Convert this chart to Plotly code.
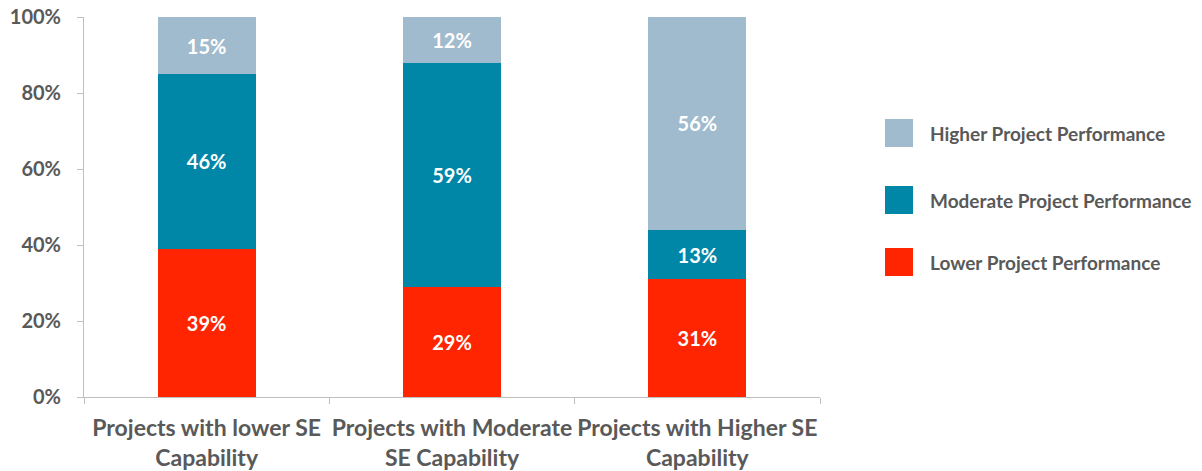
import plotly.graph_objects as go

categories = ["Projects with lower SE<br>Capability",
              "Projects with Moderate<br>SE Capability",
              "Projects with Higher SE<br>Capability"]
lower = [39, 29, 31]
moderate = [46, 59, 13]
higher = [15, 12, 56]

series_names = ["Lower Project Performance", "Moderate Project Performance", "Higher Project Performance"]
series_values = [lower, moderate, higher]
colors = ["#fe2500", "#0087a8", "#a0bbcd"]
tick_vals = [0, 20, 40, 60, 80, 100]
tick_text = ["0%", "20%", "40%", "60%", "80%", "100%"]

FONT = "Lato"
GRAY = "#595959"

FW, FH = 1202, 471
# plot area in pixels
L, R, T, B = 84, 820, 17, 397
W, H = R - L, B - T

fig = go.Figure()
for name, vals, col in zip(series_names, series_values, colors):
    fig.add_trace(go.Bar(
        x=categories, y=vals, name=name, marker=dict(color=col, line=dict(width=0)),
        text=[f"{v}%" for v in vals], textposition="inside", insidetextanchor="middle",
        textfont=dict(family=FONT, size=20, color="white", weight="bold"),
        width=0.4, showlegend=False,
    ))

# custom legend (top to bottom: Higher, Moderate, Lower)
legend_py = [133, 200, 262]
for py, name, col in zip(legend_py, series_names[::-1], colors[::-1]):
    yy = (B - py) / H
    fig.add_shape(type="rect", xref="paper", yref="paper",
                  x0=(885 - L) / W, x1=(913 - L) / W,
                  y0=yy - 14 / H, y1=yy + 14 / H,
                  fillcolor=col, line=dict(width=0))
    fig.add_annotation(xref="paper", yref="paper", x=(928 - L) / W, y=yy,
                       text=name, showarrow=False, xanchor="left", yanchor="middle",
                       font=dict(family=FONT, size=19, color=GRAY, weight="bold"))

fig.update_layout(
    barmode="stack",
    width=FW, height=FH,
    margin=dict(l=L, r=FW - R, t=T, b=FH - B),
    plot_bgcolor="white", paper_bgcolor="white",
    font=dict(family=FONT, color=GRAY),
)
fig.update_xaxes(
    automargin=False, tickangle=0, ticklabeloverflow="allow",
    showline=True, linecolor="#bfbfbf", linewidth=1,
    ticks="outside", tickson="boundaries", ticklen=6, tickcolor="#bfbfbf",
    tickfont=dict(family=FONT, size=23, color=GRAY, weight="bold"),
    ticklabelstandoff=10,
    showgrid=False,
)
fig.update_yaxes(
    automargin=False, ticklabeloverflow="allow",
    range=[0, 100], tickvals=tick_vals, ticktext=tick_text,
    showline=True, linecolor="#bfbfbf", linewidth=1,
    ticks="outside", ticklen=6, tickcolor="#bfbfbf",
    tickfont=dict(family=FONT, size=20, color=GRAY, weight="bold"),
    ticklabelstandoff=12,
    showgrid=False, zeroline=False,
)

fig.write_html("out.html",
               config={"displayModeBar": False},
               post_script="document.body.style.margin='0';document.body.style.overflow='hidden';")
